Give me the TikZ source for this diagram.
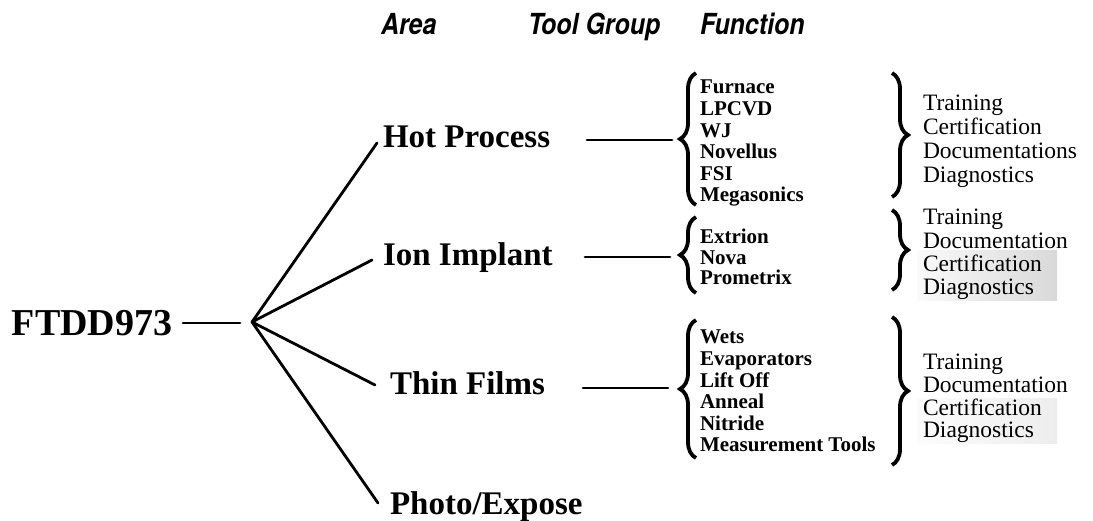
\documentclass[tikz,border=0pt]{standalone}
\usepackage{fontspec}
\setmainfont{Liberation Serif}
\newfontfamily\hdrfont[FakeStretch=0.86]{TeX Gyre Heros}
\usetikzlibrary{decorations.pathreplacing}

\begin{document}
\begin{tikzpicture}[x=1pt,y=-1pt,
  every node/.style={inner sep=0pt, outer sep=0pt},
  wire/.style={line width=2.8pt, line cap=round},
  hdr/.style={anchor=west, text height=20.9pt, text depth=0pt,
    font=\hdrfont\bfseries\itshape\fontsize{29}{29}\selectfont},
  rootlbl/.style={anchor=west, text height=25pt, text depth=0pt,
    font=\bfseries\fontsize{38}{38}\selectfont},
  area/.style={anchor=west, text height=21.8pt, text depth=0pt,
    font=\bfseries\fontsize{33}{33}\selectfont},
  tool/.style={anchor=west, text height=13.9pt, text depth=0pt,
    font=\bfseries\fontsize{21}{21}\selectfont},
  func/.style={anchor=west, text height=15.5pt, text depth=0pt,
    font=\fontsize{23.5}{23.5}\selectfont},
  curly/.style={decorate, decoration={brace, amplitude=16pt}, line width=3.8pt},
]
\useasboundingbox (0,0) rectangle (1093,520);

% column headings
\node[hdr] (hArea) at (381,24) {Area};
\node[hdr] (hTool) at (528,24) {Tool Group};
\node[hdr] (hFunc) at (700,24) {Function};

% faint halftone behind the lower function lines
\shade[left color=gray!4, right color=gray!30] (917,250) rectangle (1057,300);
\shade[left color=gray!2, right color=gray!14] (917,398) rectangle (1057,443);

% root and areas
\node[rootlbl] (root) at (12,323) {FTDD973};
\coordinate (rootL) at (183,323);
\coordinate (rootR) at (240,323);
\coordinate (hub) at (252,322);

\node[area] (hot)   at (383,136.5) {Hot Process};
\node[area] (ion)   at (383,255)   {Ion Implant};
\node[area] (thin)  at (390,383.5) {Thin Films};
\node[area] (photo) at (390,503.5) {Photo/Expose};

\coordinate (hotEnd)   at (377,143);
\coordinate (ionEnd)   at (372,260);
\coordinate (thinEnd)  at (375,385);
\coordinate (photoEnd) at (378,503);

\draw[wire] (rootL) -- (rootR);
\draw[wire] (hub) -- (hotEnd);
\draw[wire] (hub) -- (ionEnd);
\draw[wire] (hub) -- (thinEnd);
\draw[wire] (hub) -- (photoEnd);

% stubs from areas to tool groups
\coordinate (hotA)  at (587,140);  \coordinate (hotB)  at (672,140);
\coordinate (ionA)  at (585,257);  \coordinate (ionB)  at (670,257);
\coordinate (thinA) at (583,388);  \coordinate (thinB) at (668,388);
\draw[wire] (hotA) -- (hotB);
\draw[wire] (ionA) -- (ionB);
\draw[wire] (thinA) -- (thinB);

% tool group braces
\coordinate (hotLb)  at (696,205); \coordinate (hotLt)  at (696,73);
\coordinate (ionLb)  at (696,293); \coordinate (ionLt)  at (696,217);
\coordinate (thinLb) at (696,458); \coordinate (thinLt) at (696,320);
\draw[curly] (hotLb) -- (hotLt);
\draw[curly] (ionLb) -- (ionLt);
\draw[curly] (thinLb) -- (thinLt);

% tool names
\foreach \t [count=\i from 0] in {Furnace,LPCVD,WJ,Novellus,FSI,Megasonics}
  \node[tool] (hotT\i) at (700,{87+21.6*\i}) {\t};
\foreach \t [count=\i from 0] in {Extrion,Nova,Prometrix}
  \node[tool] (ionT\i) at (700,{237+20.5*\i}) {\t};
\foreach \t [count=\i from 0] in {Wets,Evaporators,Lift Off,Anneal,Nitride,Measurement Tools}
  \node[tool] (thinT\i) at (700,{337+21.6*\i}) {\t};

% function braces
\coordinate (hotRt)  at (892,73);  \coordinate (hotRb)  at (892,197);
\coordinate (ionRt)  at (892,210); \coordinate (ionRb)  at (892,290);
\coordinate (thinRt) at (892,317); \coordinate (thinRb) at (892,465);
\draw[curly] (hotRt) -- (hotRb);
\draw[curly] (ionRt) -- (ionRb);
\draw[curly] (thinRt) -- (thinRb);

% functions
\foreach \t [count=\i from 0] in {Training,Certification,Documentations,Diagnostics}
  \node[func] (hotF\i) at (923,{103+24*\i}) {\t};
\foreach \t [count=\i from 0] in {Training,Documentation,Certification,Diagnostics}
  \node[func] (ionF\i) at (923,{217+23.3*\i}) {\t};
\foreach \t [count=\i from 0] in {Training,Documentation,Certification,Diagnostics}
  \node[func] (thinF\i) at (923,{362+22.7*\i}) {\t};
\end{tikzpicture}
\end{document}
